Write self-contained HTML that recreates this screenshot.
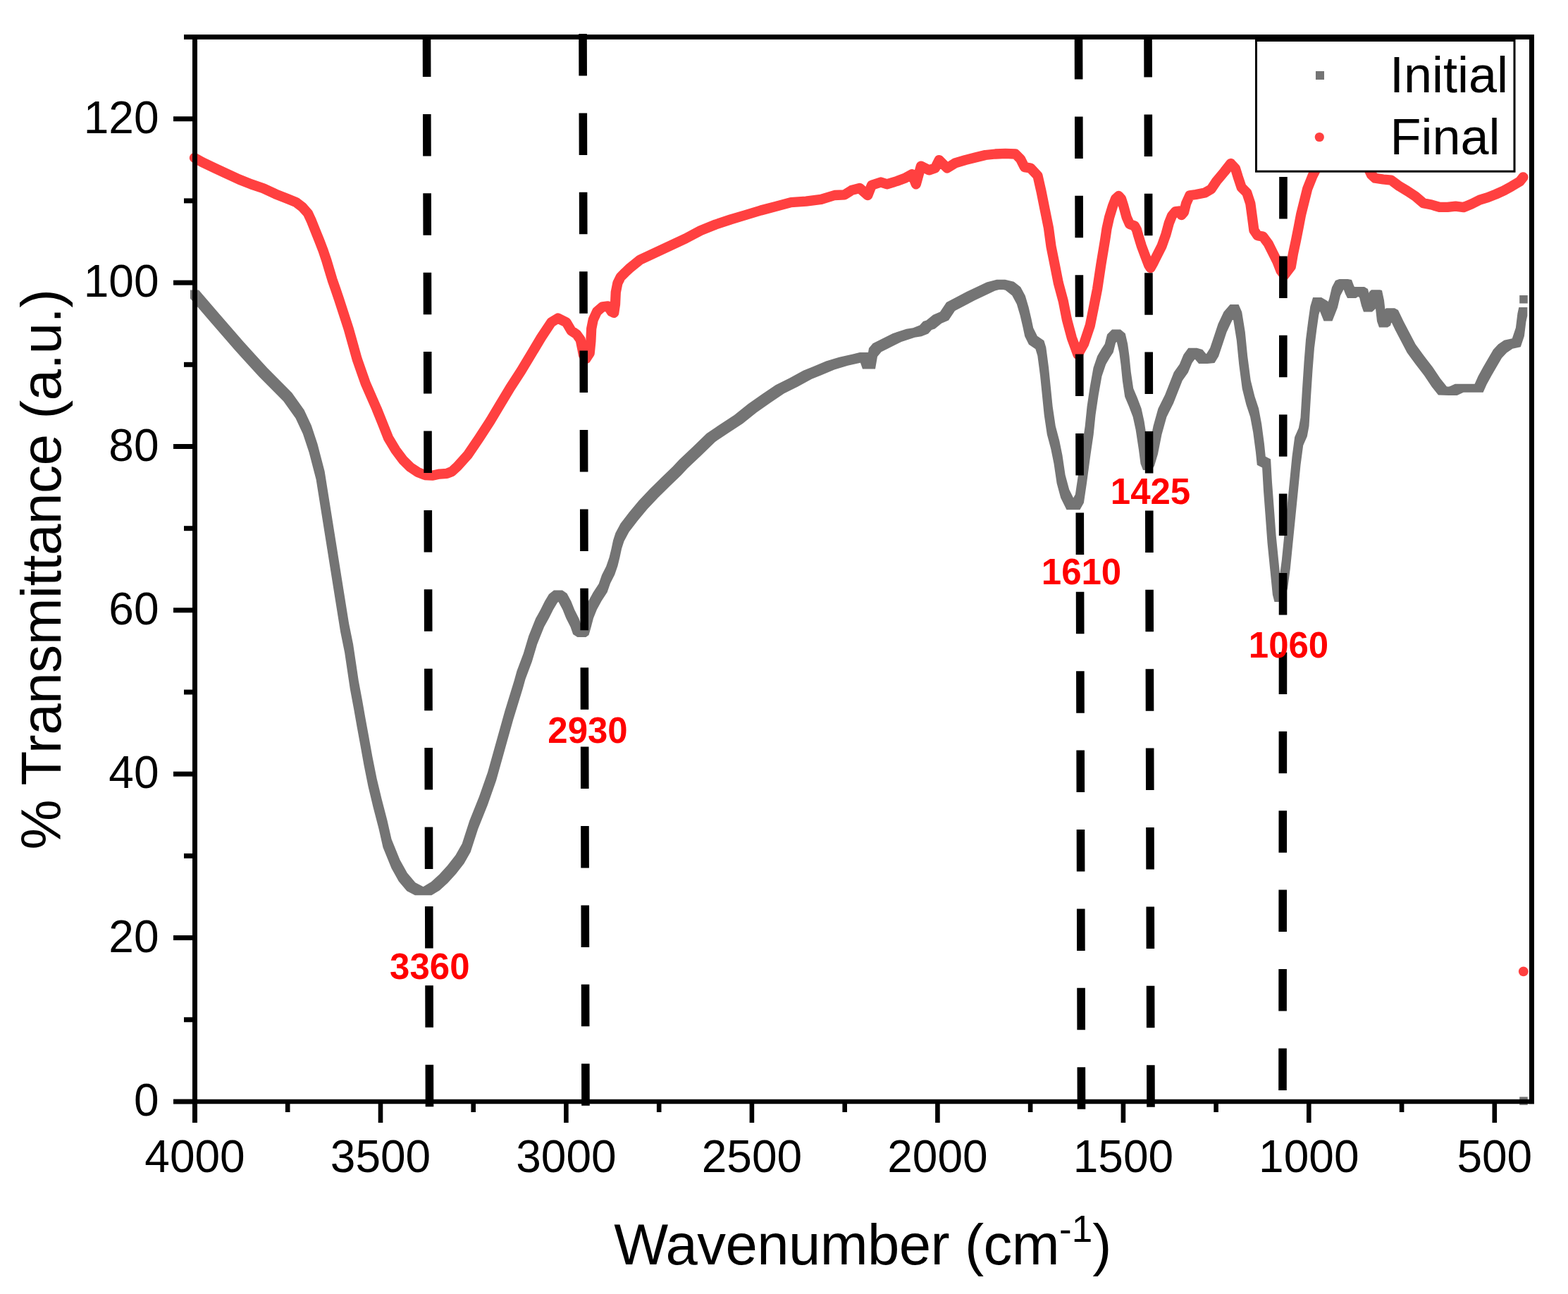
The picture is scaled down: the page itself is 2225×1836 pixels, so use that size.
<!DOCTYPE html>
<html><head><meta charset="utf-8"><title>FTIR spectra</title>
<style>html,body{margin:0;padding:0;background:#fff;}body{width:2225px;height:1836px;overflow:hidden;}svg{display:block;}text{font-family:'Liberation Sans', Arial, Helvetica, sans-serif;}</style>
</head><body>
<svg xmlns="http://www.w3.org/2000/svg" width="2225" height="1836" viewBox="0 0 2225 1836">
<rect x="0" y="0" width="2225" height="1836" fill="#fff"/>
<path fill="#747474" d="M270 411.5 282 411.5 310.6 444.8 310.6 456.8 298.6 456.8 270 423.5ZM298.6 444.8 310.6 444.8 345.1 484.6 345.1 496.6 333.1 496.6 298.6 456.8ZM333.1 484.6 345.1 484.6 379.7 522.6 379.7 534.6 367.7 534.6 333.1 496.6ZM367.7 522.6 379.7 522.6 414.2 557.2 414.2 569.2 402.2 569.2 367.7 534.6ZM402.2 557.2 414.2 557.2 431.5 581.4 431.5 593.4 419.5 593.4 402.2 569.2ZM419.5 581.4 431.5 581.4 441.9 603.8 441.9 615.8 429.9 615.8 419.5 593.4ZM429.9 603.8 441.9 603.8 450.5 629.7 450.5 641.7 438.5 641.7 429.9 615.8ZM438.5 629.7 450.5 629.7 460.6 668.6 460.6 680.6 448.6 680.6 438.5 641.7ZM448.6 668.6 460.6 668.6 467.5 711.8 467.5 723.8 455.5 723.8 448.6 680.6ZM455.5 711.8 467.5 711.8 474.4 755 474.4 767 462.4 767 455.5 723.8ZM462.4 755 474.4 755 481.3 798.2 481.3 810.2 469.3 810.2 462.4 767ZM469.3 798.2 481.3 798.2 488.2 841.4 488.2 853.4 476.2 853.4 469.3 810.2ZM476.2 841.4 488.2 841.4 495.1 884.6 495.1 896.6 483.1 896.6 476.2 853.4ZM483.1 884.6 495.1 884.6 501.1 914 501.1 926 489.1 926 483.1 896.6ZM489.1 914 501.1 914 508.8 965.8 508.8 977.8 496.8 977.8 489.1 926ZM496.8 965.8 508.8 965.8 514.1 994 514.1 1006 502.1 1006 496.8 977.8ZM502.1 994 514.1 994 518.5 1019 518.5 1031 506.5 1031 502.1 1006ZM506.5 1019 518.5 1019 523.1 1044 523.1 1056 511.1 1056 506.5 1031ZM511.1 1044 523.1 1044 528.5 1074 528.5 1086 516.5 1086 511.1 1056ZM516.5 1074 528.5 1074 534.5 1104 534.5 1116 522.5 1116 516.5 1086ZM522.5 1104 534.5 1104 541.7 1134 541.7 1146 529.7 1146 522.5 1116ZM529.7 1134 541.7 1134 549.5 1164 549.5 1176 537.5 1176 529.7 1146ZM537.5 1164 549.5 1164 555.5 1190.5 555.5 1202.5 543.5 1202.5 537.5 1176ZM543.5 1190.5 555.5 1190.5 567.5 1220.1 567.5 1232.1 555.5 1232.1 543.5 1202.5ZM555.5 1220.1 567.5 1220.1 577.8 1238.5 577.8 1250.5 565.8 1250.5 555.5 1232.1ZM565.8 1238.5 577.8 1238.5 589.4 1252.3 589.4 1264.3 577.4 1264.3 565.8 1250.5ZM577.4 1252.3 589.4 1252.3 600.9 1258.3 600.9 1270.3 588.9 1270.3 577.4 1264.3ZM588.9 1258.3 612.4 1258.3 612.4 1270.3 588.9 1270.3ZM600.4 1258.3 611.9 1251.2 623.9 1251.2 623.9 1263.2 612.4 1270.3 600.4 1270.3ZM611.9 1251.2 623.4 1240.8 635.4 1240.8 635.4 1252.8 623.9 1263.2 611.9 1263.2ZM623.4 1240.8 635 1228.1 647 1228.1 647 1240.1 635.4 1252.8 623.4 1252.8ZM635 1228.1 646.5 1213.2 658.5 1213.2 658.5 1225.2 647 1240.1 635 1240.1ZM646.5 1213.2 655.7 1197 667.7 1197 667.7 1209 658.5 1225.2 646.5 1225.2ZM655.7 1197 666.2 1164.6 678.2 1164.6 678.2 1176.6 667.7 1209 655.7 1209ZM666.2 1164.6 680 1130 692 1130 692 1142 678.2 1176.6 666.2 1176.6ZM680 1130 692.1 1095.4 704.1 1095.4 704.1 1107.4 692 1142 680 1142ZM692.1 1095.4 704.2 1052.2 716.2 1052.2 716.2 1064.2 704.1 1107.4 692.1 1107.4ZM704.2 1052.2 716.3 1009 728.3 1009 728.3 1021 716.2 1064.2 704.2 1064.2ZM716.3 1009 729.6 965.8 741.6 965.8 741.6 977.8 728.3 1021 716.3 1021ZM729.6 965.8 733.5 951.8 745.5 951.8 745.5 963.8 741.6 977.8 729.6 977.8ZM733.5 951.8 742.8 927.1 754.8 927.1 754.8 939.1 745.5 963.8 733.5 963.8ZM742.8 927.1 750.2 902.3 762.2 902.3 762.2 914.3 754.8 939.1 742.8 939.1ZM750.2 902.3 760.1 877.6 772.1 877.6 772.1 889.6 762.2 914.3 750.2 914.3ZM760.1 877.6 766.9 865.2 778.9 865.2 778.9 877.2 772.1 889.6 760.1 889.6ZM766.9 865.2 773 852.9 785 852.9 785 864.9 778.9 877.2 766.9 877.2ZM773 852.9 779 843 791 843 791 855 785 864.9 773 864.9ZM779 843 786 837.5 798 837.5 798 849.5 791 855 779 855ZM786 837.5 798 837.5 804.5 842 804.5 854 792.5 854 786 849.5ZM792.5 842 804.5 842 810.4 852.9 810.4 864.9 798.4 864.9 792.5 854ZM798.4 852.9 810.4 852.9 815.3 865.2 815.3 877.2 803.3 877.2 798.4 864.9ZM803.3 865.2 815.3 865.2 821.5 877.6 821.5 889.6 809.5 889.6 803.3 877.2ZM809.5 877.6 821.5 877.6 825.2 888 825.2 900 813.2 900 809.5 889.6ZM813.2 888 825.2 888 831.4 892 831.4 904 819.4 904 813.2 900ZM819.4 892 823.5 889 835.5 889 835.5 901 831.4 904 819.4 904ZM823.5 889 826.8 877.6 838.8 877.6 838.8 889.6 835.5 901 823.5 901ZM826.8 877.6 830 865.2 842 865.2 842 877.2 838.8 889.6 826.8 889.6ZM830 865.2 834.9 852.9 846.9 852.9 846.9 864.9 842 877.2 830 877.2ZM834.9 852.9 841.7 840.5 853.7 840.5 853.7 852.5 846.9 864.9 834.9 864.9ZM841.7 840.5 849.7 828.2 861.7 828.2 861.7 840.2 853.7 852.5 841.7 852.5ZM849.7 828.2 854 815.8 866 815.8 866 827.8 861.7 840.2 849.7 840.2ZM854 815.8 860.2 803.4 872.2 803.4 872.2 815.4 866 827.8 854 827.8ZM860.2 803.4 864.5 791.1 876.5 791.1 876.5 803.1 872.2 815.4 860.2 815.4ZM864.5 791.1 867.5 778.7 879.5 778.7 879.5 790.7 876.5 803.1 864.5 803.1ZM867.5 778.7 870.1 766.4 882.1 766.4 882.1 778.4 879.5 790.7 867.5 790.7ZM870.1 766.4 873.5 756 885.5 756 885.5 768 882.1 778.4 870.1 778.4ZM873.5 756 880.6 742.7 892.6 742.7 892.6 754.7 885.5 768 873.5 768ZM880.6 742.7 893.1 726.6 905.1 726.6 905.1 738.6 892.6 754.7 880.6 754.7ZM893.1 726.6 906.4 710.5 918.4 710.5 918.4 722.5 905.1 738.6 893.1 738.6ZM906.4 710.5 921.7 694.3 933.7 694.3 933.7 706.3 918.4 722.5 906.4 722.5ZM921.7 694.3 937.9 678.2 949.9 678.2 949.9 690.2 933.7 706.3 921.7 706.3ZM937.9 678.2 954.8 662.1 966.8 662.1 966.8 674.1 949.9 690.2 937.9 690.2ZM954.8 662.1 963.6 652.6 975.6 652.6 975.6 664.6 966.8 674.1 954.8 674.1ZM963.6 652.6 983.2 634 995.2 634 995.2 646 975.6 664.6 963.6 664.6ZM983.2 634 1002.8 614.9 1014.8 614.9 1014.8 626.9 995.2 646 983.2 646ZM1002.8 614.9 1022.4 601.7 1034.4 601.7 1034.4 613.7 1014.8 626.9 1002.8 626.9ZM1022.4 601.7 1041.9 588.9 1053.9 588.9 1053.9 600.9 1034.4 613.7 1022.4 613.7ZM1041.9 588.9 1061.5 573.3 1073.5 573.3 1073.5 585.3 1053.9 600.9 1041.9 600.9ZM1061.5 573.3 1081.1 559.5 1093.1 559.5 1093.1 571.5 1073.5 585.3 1061.5 585.3ZM1081.1 559.5 1100.7 546.3 1112.7 546.3 1112.7 558.3 1093.1 571.5 1081.1 571.5ZM1100.7 546.3 1120.3 536.5 1132.3 536.5 1132.3 548.5 1112.7 558.3 1100.7 558.3ZM1120.3 536.5 1139.9 525.8 1151.9 525.8 1151.9 537.8 1132.3 548.5 1120.3 548.5ZM1139.9 525.8 1153 520.5 1165 520.5 1165 532.5 1151.9 537.8 1139.9 537.8ZM1153 520.5 1172 512.4 1184 512.4 1184 524.4 1165 532.5 1153 532.5ZM1172 512.4 1191 506.7 1203 506.7 1203 518.7 1184 524.4 1172 524.4ZM1191 506.7 1210 502.4 1222 502.4 1222 514.4 1203 518.7 1191 518.7ZM1210 502.4 1220 500 1232 500 1232 512 1222 514.4 1210 514.4ZM1220 500 1232 500 1236 511.5 1236 523.5 1224 523.5 1220 512ZM1224 511.5 1242 511.5 1242 523.5 1224 523.5ZM1230 511.5 1233 494 1245 494 1245 506 1242 523.5 1230 523.5ZM1233 494 1238.6 487.2 1250.6 487.2 1250.6 499.2 1245 506 1233 506ZM1238.6 487.2 1248.1 482.5 1260.1 482.5 1260.1 494.5 1250.6 499.2 1238.6 499.2ZM1248.1 482.5 1267.1 473 1279.1 473 1279.1 485 1260.1 494.5 1248.1 494.5ZM1267.1 473 1286.1 466.8 1298.1 466.8 1298.1 478.8 1279.1 485 1267.1 485ZM1286.1 466.8 1295.6 465.3 1307.6 465.3 1307.6 477.3 1298.1 478.8 1286.1 478.8ZM1295.6 465.3 1305.1 461.5 1317.1 461.5 1317.1 473.5 1307.6 477.3 1295.6 477.3ZM1305.1 461.5 1310 456 1322 456 1322 468 1317.1 473.5 1305.1 473.5ZM1310 456 1314.6 454.4 1326.6 454.4 1326.6 466.4 1322 468 1310 468ZM1314.6 454.4 1324.1 446.8 1336.1 446.8 1336.1 458.8 1326.6 466.4 1314.6 466.4ZM1324.1 446.8 1334 442.5 1346 442.5 1346 454.5 1336.1 458.8 1324.1 458.8ZM1334 442.5 1343 429.1 1355 429.1 1355 441.1 1346 454.5 1334 454.5ZM1343 429.1 1357.3 421.5 1369.3 421.5 1369.3 433.5 1355 441.1 1343 441.1ZM1357.3 421.5 1371.5 413.9 1383.5 413.9 1383.5 425.9 1369.3 433.5 1357.3 433.5ZM1371.5 413.9 1385.8 407.3 1397.8 407.3 1397.8 419.3 1383.5 425.9 1371.5 425.9ZM1385.8 407.3 1400 400.6 1412 400.6 1412 412.6 1397.8 419.3 1385.8 419.3ZM1400 400.6 1414.3 396.8 1426.3 396.8 1426.3 408.8 1412 412.6 1400 412.6ZM1414.3 396.8 1426.3 396.8 1438.7 399.7 1438.7 411.7 1426.7 411.7 1414.3 408.8ZM1426.7 399.7 1438.7 399.7 1448.2 407.3 1448.2 419.3 1436.2 419.3 1426.7 411.7ZM1436.2 407.3 1448.2 407.3 1454.8 419.6 1454.8 431.6 1442.8 431.6 1436.2 419.3ZM1442.8 419.6 1454.8 419.6 1459.6 435.8 1459.6 447.8 1447.6 447.8 1442.8 431.6ZM1447.6 435.8 1459.6 435.8 1463.4 452 1463.4 464 1451.4 464 1447.6 447.8ZM1451.4 452 1463.4 452 1466.2 465.3 1466.2 477.3 1454.2 477.3 1451.4 464ZM1454.2 465.3 1466.2 465.3 1471.9 476.7 1471.9 488.7 1459.9 488.7 1454.2 477.3ZM1459.9 476.7 1471.9 476.7 1481.4 483.3 1481.4 495.3 1469.4 495.3 1459.9 488.7ZM1469.4 483.3 1481.4 483.3 1484.3 492.8 1484.3 504.8 1472.3 504.8 1469.4 495.3ZM1472.3 492.8 1484.3 492.8 1486.2 507.1 1486.2 519.1 1474.2 519.1 1472.3 504.8ZM1474.2 507.1 1486.2 507.1 1488.1 521.7 1488.1 533.7 1476.1 533.7 1474.2 519.1ZM1476.1 521.7 1488.1 521.7 1490.9 549.3 1490.9 561.3 1478.9 561.3 1476.1 533.7ZM1478.9 549.3 1490.9 549.3 1493.7 577 1493.7 589 1481.7 589 1478.9 561.3ZM1481.7 577 1493.7 577 1497.8 604.6 1497.8 616.6 1485.8 616.6 1481.7 589ZM1485.8 604.6 1497.8 604.6 1503.3 625.3 1503.3 637.3 1491.3 637.3 1485.8 616.6ZM1491.3 625.3 1503.3 625.3 1507.5 646.1 1507.5 658.1 1495.5 658.1 1491.3 637.3ZM1495.5 646.1 1507.5 646.1 1511.6 673.7 1511.6 685.7 1499.6 685.7 1495.5 658.1ZM1499.6 673.7 1511.6 673.7 1517.2 694.5 1517.2 706.5 1505.2 706.5 1499.6 685.7ZM1505.2 694.5 1517.2 694.5 1525.5 711.3 1525.5 723.3 1513.5 723.3 1505.2 706.5ZM1513.5 711.3 1532.4 711.3 1532.4 723.3 1513.5 723.3ZM1520.4 711.3 1525.9 701.4 1537.9 701.4 1537.9 713.4 1532.4 723.3 1520.4 723.3ZM1525.9 701.4 1530 673.7 1542 673.7 1542 685.7 1537.9 713.4 1525.9 713.4ZM1530 673.7 1535.6 632.3 1547.6 632.3 1547.6 644.3 1542 685.7 1530 685.7ZM1535.6 632.3 1539.7 604.6 1551.7 604.6 1551.7 616.6 1547.6 644.3 1535.6 644.3ZM1539.7 604.6 1542.5 577 1554.5 577 1554.5 589 1551.7 616.6 1539.7 616.6ZM1542.5 577 1546.6 549.3 1558.6 549.3 1558.6 561.3 1554.5 589 1542.5 589ZM1546.6 549.3 1551.5 521.7 1563.5 521.7 1563.5 533.7 1558.6 561.3 1546.6 561.3ZM1551.5 521.7 1557.2 505 1569.2 505 1569.2 517 1563.5 533.7 1551.5 533.7ZM1557.2 505 1563.1 495 1575.1 495 1575.1 507 1569.2 517 1557.2 517ZM1563.1 495 1567.7 488.1 1579.7 488.1 1579.7 500.1 1575.1 507 1563.1 507ZM1567.7 488.1 1571.1 474.5 1583.1 474.5 1583.1 486.5 1579.7 500.1 1567.7 500.1ZM1571.1 474.5 1578 467.6 1590 467.6 1590 479.6 1583.1 486.5 1571.1 486.5ZM1578 467.6 1590 467.6 1596.8 473.3 1596.8 485.3 1584.8 485.3 1578 479.6ZM1584.8 473.3 1596.8 473.3 1600.2 488.1 1600.2 500.1 1588.2 500.1 1584.8 485.3ZM1588.2 488.1 1600.2 488.1 1602.5 505.3 1602.5 517.3 1590.5 517.3 1588.2 500.1ZM1590.5 505.3 1602.5 505.3 1604.8 528.1 1604.8 540.1 1592.8 540.1 1590.5 517.3ZM1592.8 528.1 1604.8 528.1 1608.2 550.9 1608.2 562.9 1596.2 562.9 1592.8 540.1ZM1596.2 550.9 1608.2 550.9 1613.9 564.6 1613.9 576.6 1601.9 576.6 1596.2 562.9ZM1601.9 564.6 1613.9 564.6 1619.6 579.4 1619.6 591.4 1607.6 591.4 1601.9 576.6ZM1607.6 579.4 1619.6 579.4 1623.6 597.7 1623.6 609.7 1611.6 609.7 1607.6 591.4ZM1611.6 597.7 1623.6 597.7 1627.8 625.3 1627.8 637.3 1615.8 637.3 1611.6 609.7ZM1615.8 625.3 1627.8 625.3 1630.5 646 1630.5 658 1618.5 658 1615.8 637.3ZM1618.5 646 1630.5 646 1634 655 1634 667 1622 667 1618.5 658ZM1622 655 1626 649 1638 649 1638 661 1634 667 1622 667ZM1626 649 1631 632.3 1643 632.3 1643 644.3 1638 661 1626 661ZM1631 632.3 1636.5 604.6 1648.5 604.6 1648.5 616.6 1643 644.3 1631 644.3ZM1636.5 604.6 1643.4 579.7 1655.4 579.7 1655.4 591.7 1648.5 616.6 1636.5 616.6ZM1643.4 579.7 1653.2 560 1665.2 560 1665.2 572 1655.4 591.7 1643.4 591.7ZM1653.2 560 1659 545.2 1671 545.2 1671 557.2 1665.2 572 1653.2 572ZM1659 545.2 1665.8 528.1 1677.8 528.1 1677.8 540.1 1671 557.2 1659 557.2ZM1665.8 528.1 1673.8 516.7 1685.8 516.7 1685.8 528.7 1677.8 540.1 1665.8 540.1ZM1673.8 516.7 1679.5 503 1691.5 503 1691.5 515 1685.8 528.7 1673.8 528.7ZM1679.5 503 1686.3 493.8 1698.3 493.8 1698.3 505.8 1691.5 515 1679.5 515ZM1686.3 493.8 1698.3 493.8 1706.3 496.1 1706.3 508.1 1694.3 508.1 1686.3 505.8ZM1694.3 496.1 1706.3 496.1 1713.1 504.1 1713.1 516.1 1701.1 516.1 1694.3 508.1ZM1701.1 504.1 1711.4 503 1723.4 503 1723.4 515 1713.1 516.1 1701.1 516.1ZM1711.4 503 1717.1 493.8 1729.1 493.8 1729.1 505.8 1723.4 515 1711.4 515ZM1717.1 493.8 1722.8 476.7 1734.8 476.7 1734.8 488.7 1729.1 505.8 1717.1 505.8ZM1722.8 476.7 1728.5 459.6 1740.5 459.6 1740.5 471.6 1734.8 488.7 1722.8 488.7ZM1728.5 459.6 1736.5 442.5 1748.5 442.5 1748.5 454.5 1740.5 471.6 1728.5 471.6ZM1736.5 442.5 1745.6 432 1757.6 432 1757.6 444 1748.5 454.5 1736.5 454.5ZM1745.6 432 1757.6 432 1762.2 442.5 1762.2 454.5 1750.2 454.5 1745.6 444ZM1750.2 442.5 1762.2 442.5 1766.8 471 1766.8 483 1754.8 483 1750.2 454.5ZM1754.8 471 1766.8 471 1770.2 505.3 1770.2 517.3 1758.2 517.3 1754.8 483ZM1758.2 505.3 1770.2 505.3 1774.7 539.5 1774.7 551.5 1762.7 551.5 1758.2 517.3ZM1762.7 539.5 1774.7 539.5 1780.4 562.3 1780.4 574.3 1768.4 574.3 1762.7 551.5ZM1768.4 562.3 1780.4 562.3 1786.1 579.4 1786.1 591.4 1774.1 591.4 1768.4 574.3ZM1774.1 579.4 1786.1 579.4 1790.2 601.6 1790.2 613.6 1778.2 613.6 1774.1 591.4ZM1778.2 601.6 1790.2 601.6 1793.9 629.3 1793.9 641.3 1781.9 641.3 1778.2 613.6ZM1781.9 629.3 1793.9 629.3 1795.8 647.7 1795.8 659.7 1783.8 659.7 1781.9 641.3ZM1783.8 647.7 1795.8 647.7 1803.1 651.4 1803.1 663.4 1791.1 663.4 1783.8 659.7ZM1791.1 651.4 1803.1 651.4 1805 684.6 1805 696.6 1793 696.6 1791.1 663.4ZM1793 684.6 1805 684.6 1807.8 721.5 1807.8 733.5 1795.8 733.5 1793 696.6ZM1795.8 721.5 1807.8 721.5 1810.5 758.3 1810.5 770.3 1798.5 770.3 1795.8 733.5ZM1798.5 758.3 1810.5 758.3 1814.2 795.2 1814.2 807.2 1802.2 807.2 1798.5 770.3ZM1802.2 795.2 1814.2 795.2 1817.9 832.1 1817.9 844.1 1805.9 844.1 1802.2 807.2ZM1805.9 832.1 1817.9 832.1 1820.5 842 1820.5 854 1808.5 854 1805.9 844.1ZM1808.5 842 1815.1 822.8 1827.1 822.8 1827.1 834.8 1820.5 854 1808.5 854ZM1815.1 822.8 1818.8 795.2 1830.8 795.2 1830.8 807.2 1827.1 834.8 1815.1 834.8ZM1818.8 795.2 1822.5 758.3 1834.5 758.3 1834.5 770.3 1830.8 807.2 1818.8 807.2ZM1822.5 758.3 1826.2 721.5 1838.2 721.5 1838.2 733.5 1834.5 770.3 1822.5 770.3ZM1826.2 721.5 1829.9 684.6 1841.9 684.6 1841.9 696.6 1838.2 733.5 1826.2 733.5ZM1829.9 684.6 1833.5 647.7 1845.5 647.7 1845.5 659.7 1841.9 696.6 1829.9 696.6ZM1833.5 647.7 1837.2 620.1 1849.2 620.1 1849.2 632.1 1845.5 659.7 1833.5 659.7ZM1837.2 620.1 1842.8 607.2 1854.8 607.2 1854.8 619.2 1849.2 632.1 1837.2 632.1ZM1842.8 607.2 1845.5 592.4 1857.5 592.4 1857.5 604.4 1854.8 619.2 1842.8 619.2ZM1845.5 592.4 1848 551.4 1860 551.4 1860 563.4 1857.5 604.4 1845.5 604.4ZM1848 551.4 1850.5 513.4 1862.5 513.4 1862.5 525.4 1860 563.4 1848 563.4ZM1850.5 513.4 1853 481.7 1865 481.7 1865 493.7 1862.5 525.4 1850.5 525.4ZM1853 481.7 1856.2 456.4 1868.2 456.4 1868.2 468.4 1865 493.7 1853 493.7ZM1856.2 456.4 1859.3 434.8 1871.3 434.8 1871.3 446.8 1868.2 468.4 1856.2 468.4ZM1859.3 434.8 1863.1 422 1875.1 422 1875.1 434 1871.3 446.8 1859.3 446.8ZM1863.1 422 1875.1 422 1884 427.2 1884 439.2 1872 439.2 1863.1 434ZM1872 427.2 1884 427.2 1890.5 443.5 1890.5 455.5 1878.5 455.5 1872 439.2ZM1878.5 443.5 1886 424.6 1898 424.6 1898 436.6 1890.5 455.5 1878.5 455.5ZM1886 424.6 1890 407.5 1902 407.5 1902 419.5 1898 436.6 1886 436.6ZM1890 407.5 1895 398 1907 398 1907 410 1902 419.5 1890 419.5ZM1895 398 1900.5 396 1912.5 396 1912.5 408 1907 410 1895 410ZM1900.5 396 1912.5 396 1918 397 1918 409 1906 409 1900.5 408ZM1906 397 1918 397 1921 405 1921 417 1909 417 1906 409ZM1909 405 1921 405 1924 411 1924 423 1912 423 1909 417ZM1912 411 1918 407 1930 407 1930 419 1924 423 1912 423ZM1918 407 1936 407 1936 419 1918 419ZM1924 407 1936 407 1941 410 1941 422 1929 422 1924 419ZM1929 410 1941 410 1944 422 1944 434 1932 434 1929 422ZM1932 422 1944 422 1947 430.6 1947 442.6 1935 442.6 1932 434ZM1935 430.6 1940 426 1952 426 1952 438 1947 442.6 1935 442.6ZM1940 426 1943 414 1955 414 1955 426 1952 438 1940 438ZM1943 414 1946 411.2 1958 411.2 1958 423.2 1955 426 1943 426ZM1946 411.2 1958 411.2 1961 412 1961 424 1949 424 1946 423.2ZM1949 412 1961 412 1964 426 1964 438 1952 438 1949 424ZM1952 426 1964 426 1966 444 1966 456 1954 456 1952 438ZM1954 444 1966 444 1969 452.6 1969 464.6 1957 464.6 1954 456ZM1957 452.6 1961 450 1973 450 1973 462 1969 464.6 1957 464.6ZM1961 450 1964 440 1976 440 1976 452 1973 462 1961 462ZM1964 440 1967 437.3 1979 437.3 1979 449.3 1976 452 1964 452ZM1967 437.3 1979 437.3 1984 440 1984 452 1972 452 1967 449.3ZM1972 440 1984 440 1991.8 456.3 1991.8 468.3 1979.8 468.3 1972 452ZM1979.8 456.3 1991.8 456.3 2000.3 472.4 2000.3 484.4 1988.3 484.4 1979.8 468.3ZM1988.3 472.4 2000.3 472.4 2008.7 488.5 2008.7 500.5 1996.7 500.5 1988.3 484.4ZM1996.7 488.5 2008.7 488.5 2020.4 504.6 2020.4 516.6 2008.4 516.6 1996.7 500.5ZM2008.4 504.6 2020.4 504.6 2032.9 520.8 2032.9 532.8 2020.9 532.8 2008.4 516.6ZM2020.9 520.8 2032.9 520.8 2043.8 536.9 2043.8 548.9 2031.8 548.9 2020.9 532.8ZM2031.8 536.9 2043.8 536.9 2053 548.5 2053 560.5 2041 560.5 2031.8 548.9ZM2041 548.5 2053 548.5 2067.6 549 2067.6 561 2055.6 561 2041 560.5ZM2055.6 549 2064.7 544.8 2076.7 544.8 2076.7 556.8 2067.6 561 2055.6 561ZM2064.7 544.8 2089.4 544.8 2089.4 556.8 2064.7 556.8ZM2077.4 544.8 2104.6 544.8 2104.6 556.8 2077.4 556.8ZM2092.6 544.8 2097.6 533.4 2109.6 533.4 2109.6 545.4 2104.6 556.8 2092.6 556.8ZM2097.6 533.4 2104.6 520.7 2116.6 520.7 2116.6 532.7 2109.6 545.4 2097.6 545.4ZM2104.6 520.7 2112 508 2124 508 2124 520 2116.6 532.7 2104.6 532.7ZM2112 508 2119 496 2131 496 2131 508 2124 520 2112 520ZM2119 496 2126 488.5 2138 488.5 2138 500.5 2131 508 2119 508ZM2126 488.5 2134.4 482.7 2146.4 482.7 2146.4 494.7 2138 500.5 2126 500.5ZM2134.4 482.7 2145.8 480.2 2157.8 480.2 2157.8 492.2 2146.4 494.7 2134.4 494.7ZM2145.8 480.2 2150.9 465 2162.9 465 2162.9 477 2157.8 492.2 2145.8 492.2ZM2150.9 465 2153.4 444.7 2165.4 444.7 2165.4 456.7 2162.9 477 2150.9 477ZM2153.4 444.7 2155.3 436 2167.3 436 2167.3 448 2165.4 456.7 2153.4 456.7Z"/>
<rect x="2156.2" y="419" width="11.5" height="11.5" fill="#747474"/>
<rect x="2156.2" y="1556.3" width="11.5" height="11.5" fill="#747474"/>
<polyline fill="none" stroke="#ff4040" stroke-width="14.3" stroke-linejoin="round" stroke-linecap="round" points="276.0,224.0 287.3,230.3 304.6,238.4 321.8,246.5 339.1,254.5 356.4,261.4 373.7,267.2 391.0,275.3 408.2,282.2 419.8,286.8 429.0,293.7 437.1,302.9 442.1,313.8 447.6,327.6 453.2,341.5 458.5,355.3 463.2,369.1 467.3,382.9 471.5,396.8 476.3,410.6 481.0,424.5 494.6,466.4 506.7,509.6 518.8,544.2 534.5,580.0 542.8,600.7 551.1,621.5 561.5,638.7 571.8,652.6 582.2,662.9 592.6,669.8 602.9,674.0 613.3,674.7 623.7,672.6 634.0,671.9 641.2,669.0 649.1,661.8 663.9,645.2 680.0,621.4 695.5,597.6 709.7,573.9 724.0,550.1 739.4,526.4 753.7,502.6 768.0,478.8 782.2,457.4 791.7,451.5 803.6,457.4 810.7,469.3 817.9,474.1 823.7,482.0 826.3,494.9 828.0,503.6 831.5,509.0 836.7,501.0 838.4,483.7 839.2,466.4 841.8,453.4 847.0,442.2 854.8,435.3 862.6,434.4 867.8,442.2 871.2,443.9 873.0,431.8 873.8,414.6 876.4,401.6 880.7,393.0 886.8,386.9 894.3,379.8 908.5,368.4 929.9,358.4 951.3,348.4 972.7,338.5 994.1,327.1 1015.5,318.5 1036.9,311.4 1058.2,305.0 1079.6,298.5 1101.0,292.8 1122.4,287.1 1143.8,285.7 1165.2,282.9 1184.3,277.0 1198.5,276.3 1208.5,269.9 1219.9,267.0 1231.3,277.0 1237.0,262.7 1249.9,258.5 1258.4,261.3 1272.7,257.0 1284.1,252.8 1294.1,247.1 1299.8,261.3 1306.9,235.6 1318.3,241.4 1326.9,238.5 1332.6,227.1 1344.0,238.5 1355.4,231.4 1369.6,227.1 1383.9,223.5 1398.2,220.0 1412.4,218.5 1426.7,217.8 1440.9,218.5 1448.1,225.7 1453.8,237.1 1462.3,238.5 1472.5,249.4 1477.6,271.8 1482.8,297.8 1488.0,323.7 1491.5,349.6 1496.7,375.5 1501.8,401.4 1508.8,427.4 1513.9,453.3 1520.8,479.2 1529.5,503.0 1538.1,487.8 1546.8,461.9 1552.0,436.0 1557.1,410.1 1562.3,375.5 1568.1,340.6 1570.5,324.5 1574.1,308.4 1579.0,292.3 1583.0,282.0 1587.4,278.0 1591.0,282.0 1594.3,292.3 1598.7,308.4 1603.0,318.0 1610.0,320.5 1613.0,326.0 1614.8,332.6 1619.7,348.7 1625.7,364.8 1630.0,376.0 1632.6,380.0 1636.0,374.0 1640.6,364.8 1648.7,348.7 1654.4,332.6 1658.8,316.5 1663.0,306.0 1668.0,300.0 1672.9,299.5 1676.5,305.0 1680.0,301.0 1683.1,288.7 1688.2,277.3 1697.0,276.0 1709.7,273.5 1718.6,268.4 1726.2,257.0 1737.5,243.5 1746.5,232.0 1753.0,239.0 1756.6,250.7 1761.7,265.9 1769.3,273.5 1774.3,288.7 1776.9,307.7 1779.4,326.7 1784.5,334.3 1792.1,335.6 1799.7,345.7 1806.0,358.4 1812.4,371.1 1817.4,383.8 1822.5,390.5 1831.8,378.2 1835.0,359.8 1838.9,341.4 1842.6,322.9 1846.1,304.5 1850.7,286.1 1855.3,267.6 1862.7,249.2 1880.0,215.0 1900.0,200.0 1920.0,205.0 1940.0,235.0 1946.0,248.0 1951.4,252.8 1962.8,254.5 1974.2,255.7 1985.6,264.2 1997.0,271.0 2008.4,278.5 2019.8,288.2 2031.3,290.5 2042.7,293.9 2054.1,293.9 2065.5,292.7 2076.9,294.1 2088.3,289.3 2099.7,283.6 2111.1,280.2 2122.5,275.6 2133.9,270.5 2145.3,264.2 2156.7,257.4 2161.4,251.3"/>
<circle cx="2161.8" cy="1378.4" r="6.9" fill="#ff4040"/>
<line x1="605.5" y1="49.5" x2="609.5" y2="1571.0" stroke="#000" stroke-width="11.6" stroke-dasharray="59.5 52.9"/>
<line x1="827.0" y1="48.0" x2="831.0" y2="1569.5" stroke="#000" stroke-width="11.6" stroke-dasharray="59.5 52.9"/>
<line x1="1530.5" y1="53.0" x2="1534.5" y2="1574.5" stroke="#000" stroke-width="11.6" stroke-dasharray="59.5 52.9"/>
<line x1="1629.0" y1="50.0" x2="1633.0" y2="1572.5" stroke="#000" stroke-width="11.6" stroke-dasharray="59.5 52.9"/>
<line x1="1821.0" y1="251.0" x2="1820.0" y2="1547.5" stroke="#000" stroke-width="11.6" stroke-dasharray="59.5 52.9"/>
<g stroke="#000" fill="none">
<line x1="261" y1="52.5" x2="2177" y2="52.5" stroke-width="7"/>
<line x1="273" y1="1563" x2="2177" y2="1563" stroke-width="6.6"/>
<line x1="276.5" y1="49" x2="276.5" y2="1593" stroke-width="7"/>
<line x1="2173.5" y1="49" x2="2173.5" y2="1566.3" stroke-width="7"/>
<line x1="246" y1="1563.0" x2="276" y2="1563.0" stroke-width="7"/>
<line x1="246" y1="1330.6" x2="276" y2="1330.6" stroke-width="7"/>
<line x1="246" y1="1098.2" x2="276" y2="1098.2" stroke-width="7"/>
<line x1="246" y1="865.8" x2="276" y2="865.8" stroke-width="7"/>
<line x1="246" y1="633.5" x2="276" y2="633.5" stroke-width="7"/>
<line x1="246" y1="401.1" x2="276" y2="401.1" stroke-width="7"/>
<line x1="246" y1="168.7" x2="276" y2="168.7" stroke-width="7"/>
<line x1="261" y1="1446.8" x2="276" y2="1446.8" stroke-width="7"/>
<line x1="261" y1="1214.4" x2="276" y2="1214.4" stroke-width="7"/>
<line x1="261" y1="982.0" x2="276" y2="982.0" stroke-width="7"/>
<line x1="261" y1="749.7" x2="276" y2="749.7" stroke-width="7"/>
<line x1="261" y1="517.3" x2="276" y2="517.3" stroke-width="7"/>
<line x1="261" y1="284.9" x2="276" y2="284.9" stroke-width="7"/>
<line x1="261" y1="52.5" x2="276" y2="52.5" stroke-width="7"/>
<line x1="276.5" y1="1563" x2="276.5" y2="1593" stroke-width="6.6"/>
<line x1="540.0" y1="1563" x2="540.0" y2="1593" stroke-width="6.6"/>
<line x1="803.4" y1="1563" x2="803.4" y2="1593" stroke-width="6.6"/>
<line x1="1066.9" y1="1563" x2="1066.9" y2="1593" stroke-width="6.6"/>
<line x1="1330.4" y1="1563" x2="1330.4" y2="1593" stroke-width="6.6"/>
<line x1="1593.9" y1="1563" x2="1593.9" y2="1593" stroke-width="6.6"/>
<line x1="1857.3" y1="1563" x2="1857.3" y2="1593" stroke-width="6.6"/>
<line x1="2120.8" y1="1563" x2="2120.8" y2="1593" stroke-width="6.6"/>
<line x1="408.2" y1="1563" x2="408.2" y2="1578" stroke-width="6.6"/>
<line x1="671.7" y1="1563" x2="671.7" y2="1578" stroke-width="6.6"/>
<line x1="935.2" y1="1563" x2="935.2" y2="1578" stroke-width="6.6"/>
<line x1="1198.7" y1="1563" x2="1198.7" y2="1578" stroke-width="6.6"/>
<line x1="1462.1" y1="1563" x2="1462.1" y2="1578" stroke-width="6.6"/>
<line x1="1725.6" y1="1563" x2="1725.6" y2="1578" stroke-width="6.6"/>
<line x1="1989.1" y1="1563" x2="1989.1" y2="1578" stroke-width="6.6"/>
</g>
<g font-size="64" fill="#000">
<text x="225.5" y="1583.0" text-anchor="end">0</text>
<text x="225.5" y="1350.6" text-anchor="end">20</text>
<text x="225.5" y="1118.2" text-anchor="end">40</text>
<text x="225.5" y="885.8" text-anchor="end">60</text>
<text x="225.5" y="653.5" text-anchor="end">80</text>
<text x="225.5" y="421.1" text-anchor="end">100</text>
<text x="225.5" y="188.7" text-anchor="end">120</text>
<text x="276.5" y="1663" text-anchor="middle">4000</text>
<text x="540.0" y="1663" text-anchor="middle">3500</text>
<text x="803.4" y="1663" text-anchor="middle">3000</text>
<text x="1066.9" y="1663" text-anchor="middle">2500</text>
<text x="1330.4" y="1663" text-anchor="middle">2000</text>
<text x="1593.9" y="1663" text-anchor="middle">1500</text>
<text x="1857.3" y="1663" text-anchor="middle">1000</text>
<text x="2120.8" y="1663" text-anchor="middle">500</text>
</g>
<text x="0" y="0" font-size="80" letter-spacing="-0.45" text-anchor="middle" transform="translate(85.5 808) rotate(-90)">% Transmittance (a.u.)</text>
<text x="1224" y="1794" font-size="81.5" letter-spacing="-0.6" text-anchor="middle">Wavenumber (cm<tspan font-size="53" letter-spacing="0" dy="-32">-1</tspan><tspan dy="32">)</tspan></text>
<g font-size="51" font-weight="bold" fill="#ff0000">
<text x="609.8" y="1389.0" text-anchor="middle">3360</text>
<text x="834.0" y="1054.0" text-anchor="middle">2930</text>
<text x="1534.5" y="829.0" text-anchor="middle">1610</text>
<text x="1632.5" y="715.0" text-anchor="middle">1425</text>
<text x="1828.5" y="933.0" text-anchor="middle">1060</text>
</g>
<rect x="1782.5" y="57.5" width="366.5" height="185.7" fill="#fff" stroke="#000" stroke-width="3"/>
<rect x="1867" y="101" width="12" height="12" fill="#747474"/>
<circle cx="1872.3" cy="194.5" r="6.6" fill="#ff4040"/>
<text x="1972" y="131.4" font-size="72">Initial</text>
<text x="1972.5" y="219.2" font-size="72">Final</text>
</svg></body></html>
